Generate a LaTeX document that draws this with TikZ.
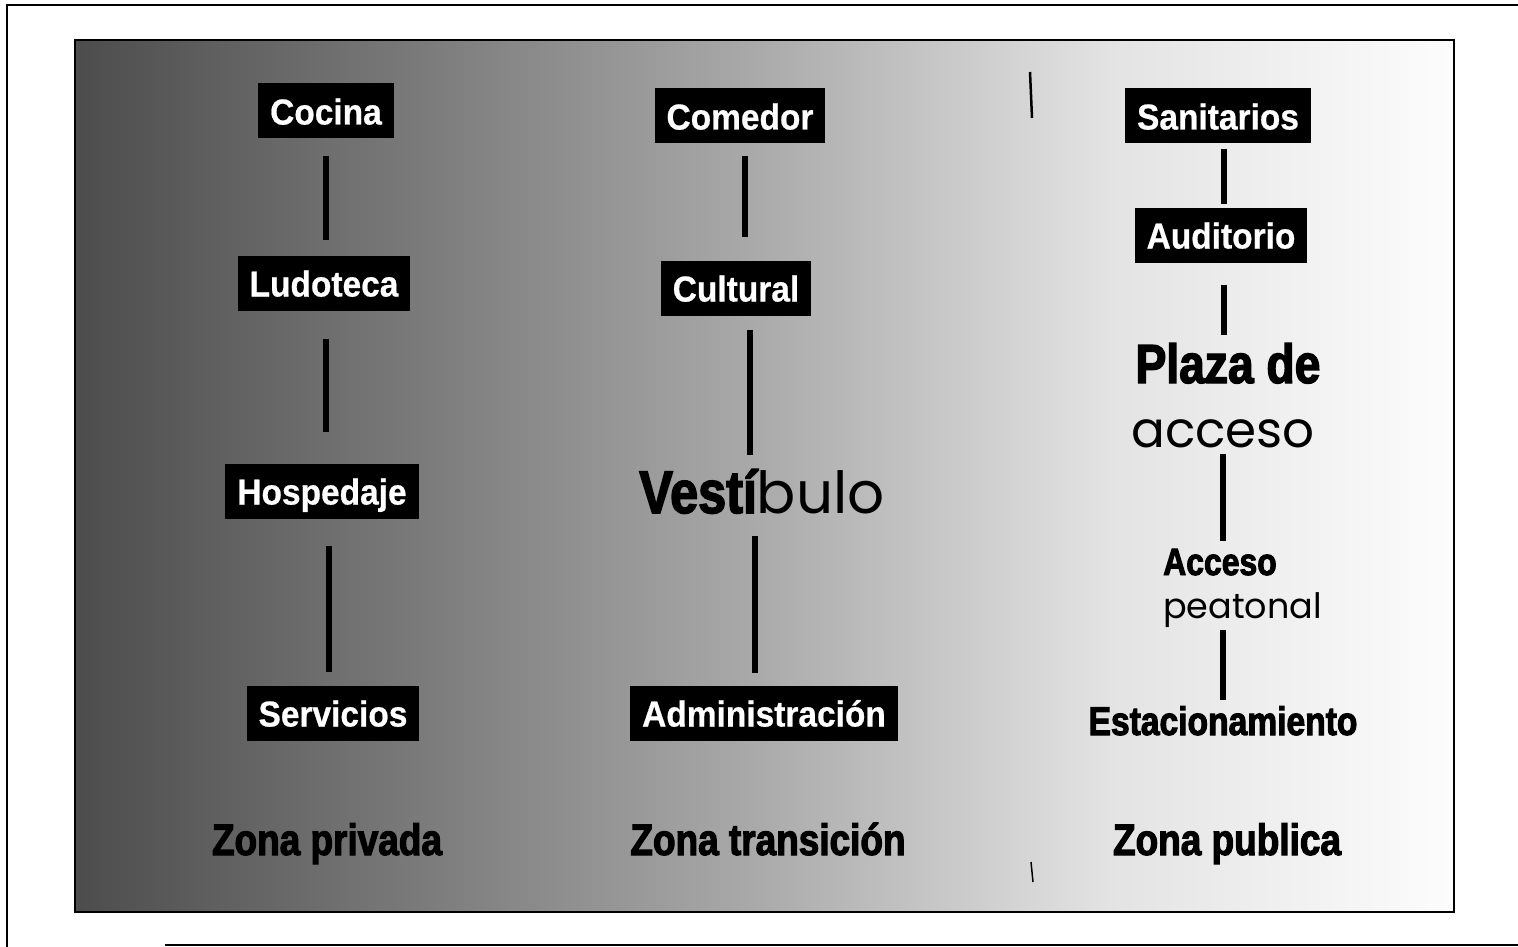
\documentclass[tikz,border=0pt]{standalone}
\usepackage{fontspec}
\newfontfamily\boxfont[FakeStretch=0.93,FakeBold=0.6]{Liberation Sans}
\newfontfamily\heavyfont[FakeStretch=0.84,FakeBold=2.5]{Liberation Sans}
\newfontfamily\geofont{Poppins}
\pgfdeclarehorizontalshading{zonefade}{100bp}{color(0bp)=(black!70); color(25bp)=(black!70); color(37.5bp)=(black!52); color(50bp)=(black!33); color(62.5bp)=(black!11); color(75bp)=(black!1); color(100bp)=(black!1)}
\tikzset{
	zonebox/.style={fill=black,text=white,font=\boxfont\bfseries\fontsize{36}{36}\selectfont,inner xsep=12pt,inner ysep=14pt,text height=27pt,text depth=0pt},
	heavy/.style={inner sep=0pt,font=\heavyfont\bfseries\fontsize{#1}{#1}\selectfont},
	geo/.style={inner sep=0pt,font=\geofont\fontsize{#1}{#1}\selectfont},
	link/.style={line width=5.5pt}
}
\begin{document}
\begin{tikzpicture}[x=1pt,y=-1pt]
	\useasboundingbox (0,0) rectangle (1518,947);
	% page frame
	\draw[line width=1.5pt] (7,947) -- (7,5) -- (1518,5);
	\draw[line width=1.5pt] (165,945) -- (1518,945);

	% shaded panel
	\shade[shading=zonefade] (75,40) rectangle (1454,912);
	\draw[line width=1.5pt] (75,40) rectangle (1454,912);
	\draw[line width=2.5pt] (1030,72) -- (1032,118);
	\draw[line width=1.5pt] (1031,862) -- (1033,882);

	% zona privada
	\node[zonebox] (cocina)    at (326,111) {Cocina};
	\node[zonebox] (ludoteca)  at (324,283) {Ludoteca};
	\node[zonebox] (hospedaje) at (322,491) {Hospedaje};
	\node[zonebox] (servicios) at (333,713) {Servicios};

	% zona transicion
	\node[zonebox] (comedor)  at (740,116) {Comedor};
	\node[zonebox] (cultural) at (736,288) {Cultural};
	\node[inner sep=0pt,anchor=base] (vestibulo) at (762,513) {{\heavyfont\bfseries\fontsize{60}{60}\selectfont Vestí}{\geofont\fontsize{58}{58}\selectfont bulo}};
	\node[zonebox] (admin) at (764,713) {Administración};

	% zona publica
	\node[zonebox] (sanitarios) at (1218,116) {Sanitarios};
	\node[zonebox] (auditorio)  at (1221,235) {Auditorio};
	\node[heavy=55,anchor=base] (plaza)  at (1228,383) {Plaza de};
	\node[geo=50,anchor=base]   (acceso) at (1223,447) {acceso};
	\node[heavy=38,anchor=base west] (accpeat)  at (1163,575) {Acceso};
	\node[geo=35,anchor=base west]   (peatonal) at (1163,618) {peatonal};
	\node[heavy=40,anchor=base] (estac) at (1223,735) {Estacionamiento};

	\node[heavy=44,anchor=base] (privada)    at (327,855)  {Zona privada};
	\node[heavy=44,anchor=base] (transicion) at (768,855)  {Zona transición};
	\node[heavy=44,anchor=base] (publica)    at (1227,855) {Zona publica};

	% links
	\draw[link,shorten <=17pt,shorten >=15pt] (cocina.south) -- (cocina.south |- ludoteca.north);
	\draw[link,shorten <=28pt,shorten >=31pt] ([xshift=2pt]ludoteca.south) -- ([xshift=2pt]ludoteca.south |- hospedaje.north);
	\draw[link,shorten <=27pt,shorten >=13pt] ([xshift=7pt]hospedaje.south) -- ([xshift=7pt]hospedaje.south |- servicios.north);

	\draw[link,shorten <=12pt,shorten >=23pt] ([xshift=5pt]comedor.south) -- ([xshift=5pt]comedor.south |- cultural.north);
	\draw[link,shorten <=14pt,shorten >=14pt] ([xshift=14pt]cultural.south) -- ([xshift=14pt]cultural.south |- vestibulo.north);
	\draw[link,shorten <=22pt,shorten >=12pt] ([xshift=-7pt]vestibulo.south) -- ([xshift=-7pt]vestibulo.south |- admin.north);

	\draw[link,shorten <=5pt,shorten >=3pt] ([xshift=6pt]sanitarios.south) -- ([xshift=6pt]sanitarios.south |- auditorio.north);
	\draw[link,shorten <=22pt,shorten >=8pt] ([xshift=3pt]auditorio.south) -- ([xshift=3pt]auditorio.south |- plaza.north);
	\draw[link,shorten <=6pt,shorten >=8pt] (acceso.south) -- (acceso.south |- accpeat.north);
	\draw[link,shorten <=3pt,shorten >=6pt] (peatonal.south -| estac.north) -- (estac.north);
\end{tikzpicture}
\end{document}
